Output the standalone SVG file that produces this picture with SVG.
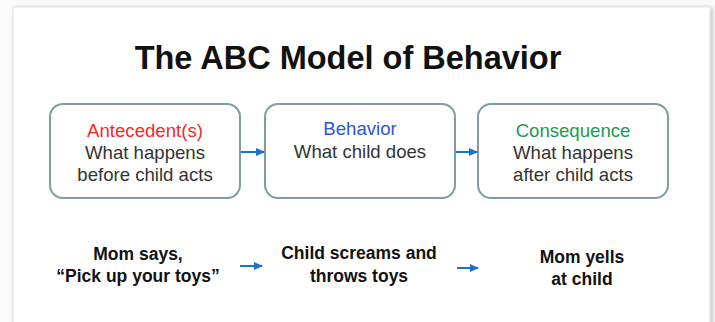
<svg xmlns="http://www.w3.org/2000/svg" width="715" height="322" viewBox="0 0 715 322">
<style>
.box{fill:#fff;stroke:#7e9ea2;stroke-width:2}
.t{font-family:"Liberation Sans",Arial,sans-serif;font-size:18.6px;fill:#333;text-anchor:middle}
.b{font-family:"Liberation Sans",Arial,sans-serif;font-size:17.5px;font-weight:bold;fill:#111;text-anchor:middle}
.c{stroke:#1b74c9;stroke-width:2;fill:none;marker-end:url(#ah)}
</style>
<defs>
<marker id="ah" markerWidth="9" markerHeight="9" refX="8" refY="4.5" orient="auto" markerUnits="userSpaceOnUse">
<path d="M0,0.5 L9,4.5 L0,8.5 Z" fill="#1b74c9"/>
</marker>
<filter id="sh" x="-5%" y="-5%" width="110%" height="110%">
<feDropShadow dx="2" dy="1" stdDeviation="2" flood-color="#000" flood-opacity="0.25"/>
</filter>
</defs>
<rect width="715" height="322" fill="#fbfbfb"/>
<rect x="13" y="7" width="697" height="330" fill="#fff" stroke="#e0e0e0" stroke-width="1" filter="url(#sh)"/>
<text x="348" y="69" font-family="'Liberation Sans',Arial,sans-serif" font-size="32.5" font-weight="bold" fill="#111" text-anchor="middle">The ABC Model of Behavior</text>
<g id="antecedent">
<rect class="box" x="50" y="104" width="190" height="94" rx="13"/>
<text class="t" x="145" y="137" style="fill:#f5282a">Antecedent(s)</text>
<text class="t" x="145" y="159">What happens</text>
<text class="t" x="145" y="181">before child acts</text>
</g>
<g id="behavior">
<rect class="box" x="265" y="104" width="190" height="94" rx="13"/>
<text class="t" x="360" y="135" style="fill:#2b56d6">Behavior</text>
<text class="t" x="360" y="158">What child does</text>
</g>
<g id="consequence">
<rect class="box" x="478" y="104" width="190" height="94" rx="13"/>
<text class="t" x="573" y="137" style="fill:#1c9a4e">Consequence</text>
<text class="t" x="573" y="159">What happens</text>
<text class="t" x="573" y="181">after child acts</text>
</g>
<g id="ex-antecedent">
<text class="b" x="138" y="260">Mom says,</text>
<text class="b" x="138" y="282">“Pick up your toys”</text>
</g>
<g id="ex-behavior">
<text class="b" x="359" y="259">Child screams and</text>
<text class="b" x="359" y="282">throws toys</text>
</g>
<g id="ex-consequence">
<text class="b" x="582" y="263">Mom yells</text>
<text class="b" x="582" y="285">at child</text>
</g>
<g id="connectors">
<line class="c" x1="241" y1="152" x2="264" y2="152"/>
<line class="c" x1="456" y1="152" x2="477" y2="152"/>
<line class="c" x1="240" y1="266" x2="262" y2="266"/>
<line class="c" x1="457" y1="268" x2="478" y2="268"/>
</g>
</svg>
